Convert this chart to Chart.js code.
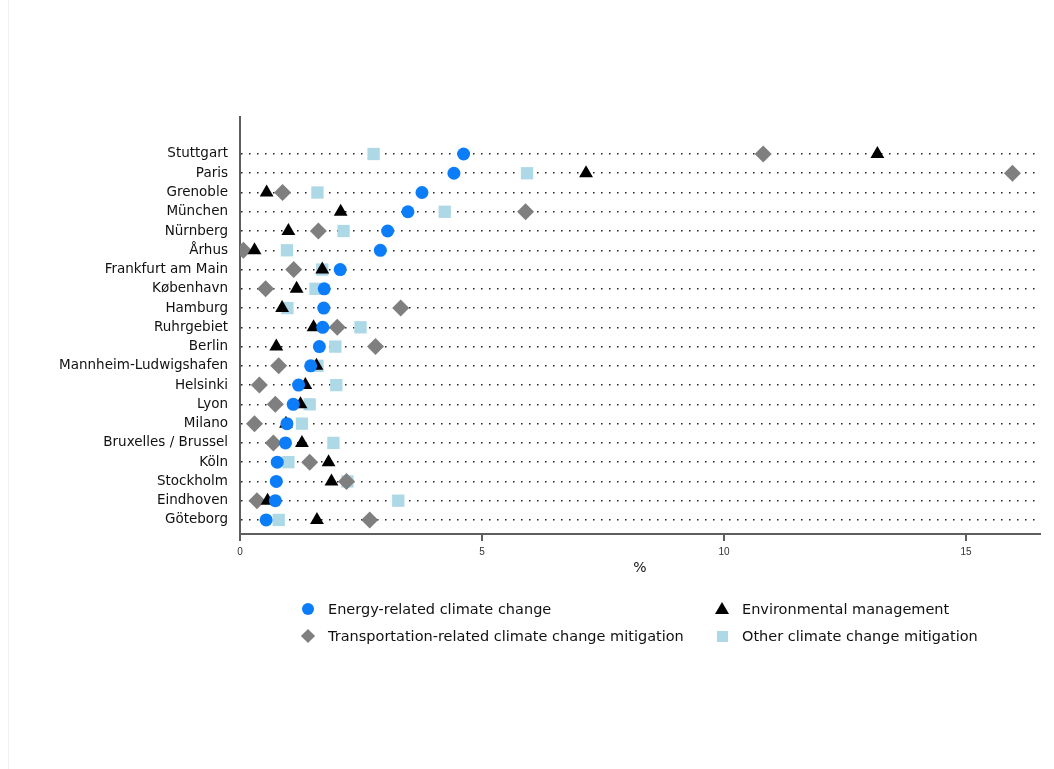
<!DOCTYPE html>
<html>
<head>
<meta charset="utf-8">
<title>Climate change mitigation by city</title>
<script src="https://cdn.jsdelivr.net/npm/chart.js@4"></script>
<style>
  html, body { margin: 0; padding: 0; background: #ffffff; }
  #wrap { position: relative; width: 1054px; height: 769px; overflow: hidden; }
  #chart { position: absolute; left: 0; top: 0; }
  .frame { position: absolute; left: 8px; top: 0; width: 1px; height: 769px; background: #f1f1f1; }
  .legend { position: absolute; left: 0; top: 0; width: 1054px; height: 769px; pointer-events: none;
            font-family: "DejaVu Sans", sans-serif; font-size: 14.5px; color: #111111; }
  .item { position: absolute; height: 20px; line-height: 20px; white-space: nowrap; }
  .mk { position: absolute; }
</style>
</head>
<body>
<div id="wrap">
  <div class="frame"></div>
  <canvas id="chart" width="1054" height="769"></canvas>
  <div class="legend" id="legend"></div>
</div>
<script>
// Cities, top to bottom
const cities = ["Stuttgart", "Paris", "Grenoble", "München", "Nürnberg", "Århus",
  "Frankfurt am Main", "København", "Hamburg", "Ruhrgebiet", "Berlin",
  "Mannheim-Ludwigshafen", "Helsinki", "Lyon", "Milano", "Bruxelles / Brussel",
  "Köln", "Stockholm", "Eindhoven", "Göteborg"];

// Shares in %, one value per city
const energyRelated = [4.62, 4.42, 3.76, 3.47, 3.05, 2.90, 2.07, 1.74, 1.73, 1.71,
  1.64, 1.46, 1.21, 1.10, 0.97, 0.94, 0.77, 0.75, 0.73, 0.54];
const environmentalMgmt = [13.17, 7.15, 0.55, 2.08, 1.00, 0.30, 1.70, 1.17, 0.87, 1.52,
  0.75, 1.58, 1.35, 1.25, 0.95, 1.28, 1.83, 1.89, 0.57, 1.59];
const transportRelated = [10.81, 15.96, 0.88, 5.90, 1.62, 0.07, 1.11, 0.53, 3.32, 2.01,
  2.80, 0.80, 0.40, 0.73, 0.30, 0.69, 1.44, 2.20, 0.35, 2.68];
const otherMitigation = [2.76, 5.93, 1.60, 4.23, 2.14, 0.97, 1.70, 1.56, 0.98, 2.49,
  1.97, 1.60, 1.99, 1.44, 1.28, 1.93, 1.00, 2.22, 3.27, 0.80];

const xTicks = [0, 5, 10, 15];
const seriesNames = ["Energy-related climate change", "Environmental management",
  "Transportation-related climate change mitigation", "Other climate change mitigation"];

const COLORS = { energy: "#0b7df8", env: "#000000", transport: "#7f7f7f", other: "#add8e6" };

const toPoints = vals => vals.map((v, i) => ({ x: v, y: i + 1 }));

// Dataset 0 is painted last, so circles sit on top of the other markers
const datasets = [
  { label: seriesNames[0], data: toPoints(energyRelated), pointStyle: "circle",
    pointRadius: 6.5, backgroundColor: COLORS.energy, borderColor: COLORS.energy },
  { label: seriesNames[1], data: toPoints(environmentalMgmt), pointStyle: "triangle",
    pointRadius: 8, backgroundColor: COLORS.env, borderColor: COLORS.env },
  { label: seriesNames[2], data: toPoints(transportRelated), pointStyle: "rectRot",
    pointRadius: 8.5, backgroundColor: COLORS.transport, borderColor: COLORS.transport },
  { label: seriesNames[3], data: toPoints(otherMitigation), pointStyle: "rect",
    pointRadius: 8.7, backgroundColor: COLORS.other, borderColor: COLORS.other }
].map(d => Object.assign(d, { pointBorderWidth: 0, borderWidth: 0, showLine: false, pointHoverRadius: d.pointRadius }));

new Chart(document.getElementById("chart"), {
  type: "scatter",
  data: { datasets },
  options: {
    responsive: false,
    animation: false,
    layout: { padding: { left: 0, right: 14, top: 117, bottom: 190 } },
    plugins: { legend: { display: false }, tooltip: { enabled: false } },
    scales: {
      x: {
        type: "linear",
        position: "bottom",
        min: 0,
        max: 16.53,
        afterBuildTicks: s => { s.ticks = xTicks.map(v => ({ value: v })); },
        afterFit: s => { s.height = 45; },
        grid: { drawOnChartArea: false, drawTicks: true, tickLength: 7, color: "#5e5e5e", lineWidth: 2 },
        border: { display: true, color: "#5e5e5e", width: 2 },
        ticks: { padding: 5, color: "#333333",
                 font: { family: "'Liberation Sans Narrow', 'Liberation Sans'", size: 10 } },
        title: { display: true, text: "%", color: "#111111", padding: { top: 0, bottom: 2.5 },
                 font: { family: "DejaVu Sans", size: 14 } }
      },
      y: {
        type: "linear",
        position: "left",
        reverse: true,
        min: -0.92,
        max: 20.73,
        afterBuildTicks: s => { s.ticks = cities.map((c, i) => ({ value: i + 1 })); },
        afterFit: s => { s.width = 240; },
        grid: { drawTicks: false, tickLength: 0, color: "#1e1e1e", lineWidth: 1.5 },
        border: { display: true, color: "#5e5e5e", width: 2, dash: [1.5, 6.5] },
        ticks: {
          padding: 12,
          color: "#111111",
          font: { family: "DejaVu Sans", size: 13.5 },
          callback: v => cities[v - 1] || ""
        }
      }
    }
  }
});

// Two-column legend under the plot
const legendItems = [
  { name: seriesNames[0], shape: "circle", color: COLORS.energy, x: 308, y: 609 },
  { name: seriesNames[1], shape: "triangle", color: COLORS.env, x: 722, y: 609 },
  { name: seriesNames[2], shape: "diamond", color: COLORS.transport, x: 308, y: 636 },
  { name: seriesNames[3], shape: "square", color: COLORS.other, x: 722, y: 636 }
];
const legend = document.getElementById("legend");
legendItems.forEach(it => {
  const mk = document.createElement("div");
  mk.className = "mk";
  if (it.shape === "circle") {
    Object.assign(mk.style, { width: "12px", height: "12px", borderRadius: "50%", background: it.color,
      left: (it.x - 6) + "px", top: (it.y - 6) + "px" });
  } else if (it.shape === "triangle") {
    Object.assign(mk.style, { width: "0", height: "0", borderLeft: "7px solid transparent",
      borderRight: "7px solid transparent", borderBottom: "12px solid " + it.color,
      left: (it.x - 7) + "px", top: (it.y - 7) + "px" });
  } else if (it.shape === "diamond") {
    Object.assign(mk.style, { width: "10px", height: "10px", background: it.color, transform: "rotate(45deg)",
      left: (it.x - 5) + "px", top: (it.y - 5) + "px" });
  } else {
    Object.assign(mk.style, { width: "11px", height: "11px", background: it.color,
      left: (it.x - 5.5) + "px", top: (it.y - 5.5) + "px" });
  }
  legend.appendChild(mk);
  const t = document.createElement("div");
  t.className = "item";
  t.textContent = it.name;
  t.style.left = (it.x + 20) + "px";
  t.style.top = (it.y - 10) + "px";
  legend.appendChild(t);
});
</script>
</body>
</html>
